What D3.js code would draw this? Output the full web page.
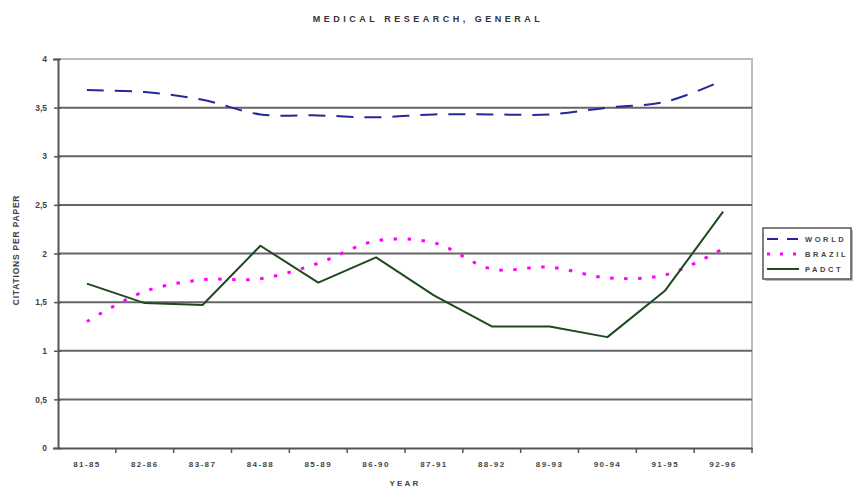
<!DOCTYPE html>
<html>
<head>
<meta charset="utf-8">
<script src="https://cdn.jsdelivr.net/npm/d3@7"></script>
<style>
  html, body { margin: 0; padding: 0; background: #fff; }
  svg { display: block; font-family: "Liberation Sans", Arial, sans-serif; }
</style>
</head>
<body>
<svg id="chart" width="858" height="488"></svg>
<script>
// Five-year citation windows
const periods = ["81-85","82-86","83-87","84-88","85-89","86-90","87-91","88-92","89-93","90-94","91-95","92-96"];

// Citations per paper, medical research (general)
const world  = [3.68, 3.66, 3.58, 3.43, 3.42, 3.40, 3.43, 3.43, 3.43, 3.50, 3.56, 3.78];
const brazil = [1.30, 1.61, 1.73, 1.74, 1.90, 2.13, 2.11, 1.84, 1.86, 1.75, 1.78, 2.05];
const padct  = [1.69, 1.49, 1.47, 2.08, 1.70, 1.96, 1.57, 1.25, 1.25, 1.14, 1.62, 2.43];

const yTicks = [0, 0.5, 1, 1.5, 2, 2.5, 3, 3.5, 4];

const seriesList = [
  { name: "WORLD",  values: world,  color: "#26269a", width: 2,   dash: "17,11", curve: d3.curveCatmullRom.alpha(0.5) },
  { name: "BRAZIL", values: brazil, color: "#ff00ff", width: 3,   dash: "3.5,10.5", curve: d3.curveCatmullRom.alpha(0.5) },
  { name: "PADCT",  values: padct,  color: "#1e4a1e", width: 2,   dash: null,    curve: d3.curveLinear }
];

const svg = d3.select("#chart");
const plot = { left: 58, right: 752, top: 59, bottom: 448 };

const x = d3.scaleBand().domain(periods).range([plot.left, plot.right]);
const y = d3.scaleLinear().domain([0, 4]).range([plot.bottom, plot.top]);
const cx = d => x(d) + x.bandwidth() / 2;

// Plot frame (top and right edges)
svg.append("path")
  .attr("d", `M${plot.left},${plot.top}H${plot.right}V${plot.bottom}`)
  .attr("fill", "none").attr("stroke", "#bdbdbd").attr("stroke-width", 2);

// Horizontal gridlines
svg.append("g").selectAll("line")
  .data(yTicks.filter(v => v > 0 && v < 4))
  .join("line")
  .attr("x1", plot.left).attr("x2", plot.right)
  .attr("y1", d => y(d)).attr("y2", d => y(d))
  .attr("stroke", "#666").attr("stroke-width", 2);

// Y axis
const yAxis = svg.append("g")
  .attr("transform", `translate(${plot.left},0)`)
  .call(d3.axisLeft(y).tickValues(yTicks).tickSize(5).tickPadding(6)
    .tickFormat(d => String(d).replace(".", ",")));
yAxis.select(".domain").attr("stroke", "#555").attr("stroke-width", 2);
yAxis.selectAll(".tick line").attr("stroke", "#555").attr("stroke-width", 1.5).attr("x2", 3).attr("x1", -4);
yAxis.selectAll(".tick text").attr("fill", "#444").attr("font-size", 8.5).attr("font-weight", "bold");

// X axis
const xAxis = svg.append("g")
  .attr("transform", `translate(0,${plot.bottom})`)
  .call(d3.axisBottom(x).tickSize(0).tickPadding(13));
xAxis.select(".domain").attr("stroke", "#555").attr("stroke-width", 2);
xAxis.selectAll(".tick text").attr("fill", "#444").attr("font-size", 8)
  .attr("font-weight", "bold").attr("letter-spacing", 1.4);
// Category boundary ticks
svg.append("g").selectAll("line")
  .data(periods.slice(1).concat(["end"]))
  .join("line")
  .attr("x1", (d, i) => i < periods.length - 1 ? x(d) : plot.right)
  .attr("x2", (d, i) => i < periods.length - 1 ? x(d) : plot.right)
  .attr("y1", plot.bottom).attr("y2", plot.bottom + 5)
  .attr("stroke", "#555").attr("stroke-width", 1.5);

// Series lines
seriesList.forEach(s => {
  const line = d3.line().x((v, i) => cx(periods[i])).y(v => y(v)).curve(s.curve);
  svg.append("path")
    .datum(s.values)
    .attr("d", line)
    .attr("fill", "none")
    .attr("stroke", s.color)
    .attr("stroke-width", s.width)
    .attr("stroke-dasharray", s.dash)
    .attr("stroke-linejoin", "round");
});

// Title and axis titles
svg.append("text")
  .attr("x", 428).attr("y", 22).attr("text-anchor", "middle")
  .attr("font-size", 9).attr("font-weight", "bold").attr("letter-spacing", 3.5)
  .attr("fill", "#333").text("MEDICAL RESEARCH, GENERAL");

svg.append("text")
  .attr("transform", "translate(19,250) rotate(-90)").attr("text-anchor", "middle")
  .attr("font-size", 8.5).attr("font-weight", "bold").attr("letter-spacing", 0.8)
  .attr("fill", "#444").text("CITATIONS PER PAPER");

svg.append("text")
  .attr("x", 405).attr("y", 486).attr("text-anchor", "middle")
  .attr("font-size", 8).attr("font-weight", "bold").attr("letter-spacing", 2.2)
  .attr("fill", "#444").text("YEAR");

// Legend
const lg = svg.append("g").attr("transform", "translate(763,228)");
lg.append("rect").attr("x", 2).attr("y", 2).attr("width", 88).attr("height", 51).attr("fill", "#bbb");
lg.append("rect").attr("width", 88).attr("height", 51)
  .attr("fill", "#fff").attr("stroke", "#555").attr("stroke-width", 1.5);
seriesList.forEach((s, i) => {
  const ry = 11 + i * 15;
  lg.append("line")
    .attr("x1", 4).attr("x2", 36).attr("y1", ry).attr("y2", ry)
    .attr("stroke", s.color).attr("stroke-width", s.width)
    .attr("stroke-dasharray", s.dash ? (i === 0 ? "11,9" : "3,10") : null);
  lg.append("text")
    .attr("x", 42).attr("y", ry + 3).attr("font-size", 7.5).attr("font-weight", "bold")
    .attr("letter-spacing", 2.6).attr("fill", "#444").text(s.name);
});
</script>
</body>
</html>
